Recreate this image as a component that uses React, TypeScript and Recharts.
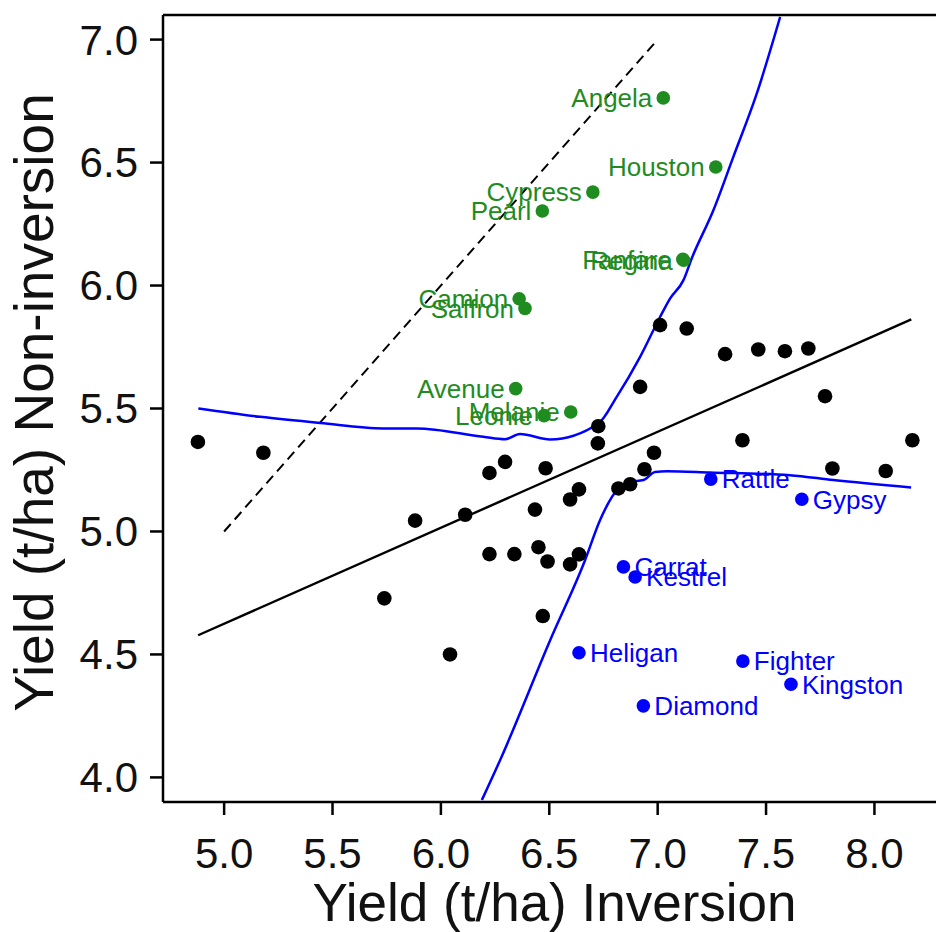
import { ComposedChart, Scatter, XAxis, YAxis, ReferenceLine, Label } from "recharts";

const WIDTH = 936;
const HEIGHT = 932;
const FONT = "'Liberation Sans', Arial, sans-serif";
const GREEN = "#1f8c1f";
const BLUE = "#0000ff";

// yield (t/ha): [inversion, non-inversion]
const otherVarieties: [number, number][] = [
  [4.879, 5.364], [5.181, 5.32], [5.739, 4.728], [5.881, 5.044], [6.042, 4.5],
  [6.112, 5.068], [6.224, 5.238], [6.296, 5.283], [6.224, 4.908], [6.339, 4.908],
  [6.434, 5.089], [6.45, 4.936], [6.483, 5.257], [6.492, 4.878], [6.47, 4.656],
  [6.596, 5.13], [6.637, 5.171], [6.596, 4.866], [6.637, 4.907], [6.726, 5.428],
  [6.724, 5.358], [6.819, 5.175], [6.873, 5.192], [6.919, 5.588], [6.939, 5.253],
  [6.983, 5.32], [7.011, 5.839], [7.134, 5.825], [7.311, 5.721], [7.391, 5.371],
  [7.464, 5.74], [7.587, 5.733], [7.695, 5.744], [7.772, 5.55], [7.806, 5.256],
  [8.052, 5.246], [8.175, 5.371],
];

// better under non-inversion
const greenNames = ["Angela", "Houston", "Cypress", "Pearl", "Fanfare", "Regina", "Camion", "Saffron", "Avenue", "Melanie", "Leonie"];
const greenInversion = [7.026, 7.268, 6.701, 6.468, 7.116, 7.12, 6.361, 6.388, 6.345, 6.599, 6.476];
const greenNonInversion = [6.763, 6.482, 6.38, 6.303, 6.107, 6.103, 5.946, 5.907, 5.581, 5.486, 5.471];

// better under inversion
const blueNames = ["Rattle", "Gypsy", "Carrat", "Kestrel", "Heligan", "Fighter", "Kingston", "Diamond"];
const blueInversion = [7.245, 7.665, 6.842, 6.896, 6.637, 7.393, 7.615, 6.934];
const blueNonInversion = [5.213, 5.131, 4.856, 4.815, 4.507, 4.473, 4.379, 4.291];

// 1:1 line, fitted line and the two boundary curves
const parityLine: [number, number][] = [[5.0, 5.0], [7.0, 7.0]];
const fittedLine: [number, number][] = [[4.88, 4.578], [8.17, 5.862]];
const upperCurve: [number, number][] = [
  [4.881, 5.5], [5.166, 5.466], [5.443, 5.441], [5.735, 5.419], [5.889, 5.419],
  [6.196, 5.385], [6.296, 5.375], [6.365, 5.396], [6.504, 5.374], [6.727, 5.439],
  [6.811, 5.547], [6.919, 5.71], [7.011, 5.872], [7.057, 5.947], [7.119, 6.022],
  [7.157, 6.11], [7.257, 6.306], [7.349, 6.523], [7.457, 6.78], [7.565, 7.092],
];
const lowerCurve: [number, number][] = [
  [6.189, 3.908], [6.273, 4.07], [6.504, 4.558], [6.665, 4.883], [6.734, 5.046],
  [6.819, 5.175], [6.873, 5.202], [6.934, 5.209], [6.988, 5.242], [7.042, 5.245],
  [7.241, 5.24], [7.61, 5.229], [7.81, 5.209], [8.169, 5.179],
];

const xTicks = [5.0, 5.5, 6.0, 6.5, 7.0, 7.5, 8.0];
const yTicks = [4.0, 4.5, 5.0, 5.5, 6.0, 6.5, 7.0];

const toPoints = (pairs: [number, number][]) => pairs.map(([x, y]) => ({ x, y }));
const named = (names: string[], xs: number[], ys: number[]) =>
  names.map((name, i) => ({ name, x: xs[i], y: ys[i] }));

const noDot = () => <g />;

function BlackDot(props: any) {
  return <circle cx={props.cx} cy={props.cy} r={7.3} fill="#000" />;
}

function labelledDot(color: string, side: "left" | "right") {
  return (props: any) => {
    const { cx, cy, payload } = props;
    return (
      <g>
        <circle cx={cx} cy={cy} r={6.8} fill={color} />
        <text
          x={side === "left" ? cx - 11 : cx + 11}
          y={cy}
          dy="0.36em"
          textAnchor={side === "left" ? "end" : "start"}
          fill={color}
          fontSize={26}
          fontFamily={FONT}
        >
          {payload.name}
        </text>
      </g>
    );
  };
}

const axisStroke = { stroke: "#000", strokeWidth: 2.5 };
const tickStyle = { fill: "#111", fontSize: 42, fontFamily: FONT };

export default function App() {
  return (
    <div style={{ position: "absolute", left: 0, top: 0 }}>
      <ComposedChart width={WIDTH} height={HEIGHT} margin={{ top: 15, right: 0, bottom: 0, left: 0 }}>
        <XAxis
          type="number"
          dataKey="x"
          domain={[4.718, 8.284]}
          allowDataOverflow
          ticks={xTicks}
          tickFormatter={(v: number) => v.toFixed(1)}
          height={130}
          tickSize={13}
          tickMargin={23}
          axisLine={axisStroke}
          tickLine={axisStroke}
          tick={tickStyle}
        >
          <Label
            content={(p: any) => (
              <text
                x={p.viewBox.x + p.viewBox.width / 2 + 5}
                y={p.viewBox.y + 119}
                textAnchor="middle"
                fontSize={53}
                fontFamily={FONT}
                fill="#111"
              >
                Yield (t/ha) Inversion
              </text>
            )}
          />
        </XAxis>
        <YAxis
          type="number"
          dataKey="y"
          domain={[3.9, 7.1]}
          allowDataOverflow
          ticks={yTicks}
          tickFormatter={(v: number) => v.toFixed(1)}
          width={163}
          tickSize={13}
          tickMargin={12}
          axisLine={axisStroke}
          tickLine={axisStroke}
          tick={tickStyle}
        >
          <Label
            content={(p: any) => {
              const cy = p.viewBox.y + p.viewBox.height / 2 - 6;
              return (
                <text
                  x={53}
                  y={cy}
                  transform={`rotate(-90, 53, ${cy})`}
                  textAnchor="middle"
                  fontSize={55}
                  fontFamily={FONT}
                  fill="#111"
                >
                  Yield (t/ha) Non-inversion
                </text>
              );
            }}
          />
        </YAxis>
        <ReferenceLine y={7.1} stroke="#000" strokeWidth={2.5} />

        <Scatter
          data={toPoints(parityLine)}
          line={{ stroke: "#000", strokeWidth: 2, strokeDasharray: "10 6" }}
          shape={noDot}
          isAnimationActive={false}
        />
        <Scatter
          data={toPoints(fittedLine)}
          line={{ stroke: "#000", strokeWidth: 2.4 }}
          shape={noDot}
          isAnimationActive={false}
        />
        <Scatter
          data={toPoints(upperCurve)}
          line={{ stroke: BLUE, strokeWidth: 2.5 }}
          lineJointType="monotoneX"
          shape={noDot}
          isAnimationActive={false}
        />
        <Scatter
          data={toPoints(lowerCurve)}
          line={{ stroke: BLUE, strokeWidth: 2.5 }}
          lineJointType="monotoneX"
          shape={noDot}
          isAnimationActive={false}
        />

        <Scatter data={toPoints(otherVarieties)} shape={BlackDot} isAnimationActive={false} />
        <Scatter
          data={named(greenNames, greenInversion, greenNonInversion)}
          shape={labelledDot(GREEN, "left")}
          isAnimationActive={false}
        />
        <Scatter
          data={named(blueNames, blueInversion, blueNonInversion)}
          shape={labelledDot(BLUE, "right")}
          isAnimationActive={false}
        />
      </ComposedChart>
    </div>
  );
}
